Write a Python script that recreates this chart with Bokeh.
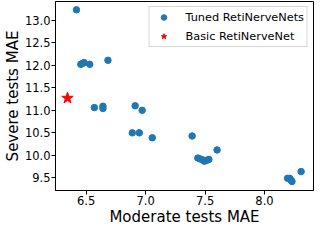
from bokeh.plotting import figure
from bokeh.models import FixedTicker, NumeralTickFormatter, Range1d
from bokeh.embed import file_html
from bokeh.resources import INLINE

# Tuned RetiNerveNets: (moderate MAE, severe MAE)
tuned_moderate = [6.418, 6.455, 6.468, 6.482, 6.530, 6.683, 6.569, 6.641, 6.641,
                  6.912, 6.971, 6.888, 6.947, 7.056, 7.391, 7.601, 7.439, 7.460,
                  7.478, 7.494, 7.513, 7.532, 8.194, 8.212, 8.226, 8.231, 8.308]
tuned_severe = [13.23, 12.02, 12.04, 12.06, 12.02, 12.11, 11.06, 11.09, 11.04,
                11.10, 11.00, 10.50, 10.50, 10.39, 10.43, 10.12, 9.94, 9.92,
                9.90, 9.87, 9.89, 9.91, 9.49, 9.49, 9.44, 9.42, 9.64]
basic_moderate = [6.343]
basic_severe = [11.27]

x_ticks = [6.5, 7.0, 7.5, 8.0]
y_ticks = [9.5, 10.0, 10.5, 11.0, 11.5, 12.0, 12.5, 13.0]

p = figure(width=314, height=228, output_backend="svg", toolbar_location=None,
           x_range=Range1d(6.242, 8.412), y_range=Range1d(9.22, 13.415),
           min_border_left=0, min_border_right=1, min_border_top=1, min_border_bottom=0)

p.scatter(tuned_moderate, tuned_severe, size=6.5, color="#1f77b4",
          legend_label="Tuned RetiNerveNets")
p.scatter(basic_moderate, basic_severe, marker="star", size=12, color="red",
          legend_label="Basic RetiNerveNet")

p.xgrid.visible = False
p.ygrid.visible = False
p.outline_line_color = "black"
p.outline_line_alpha = 1.0
p.background_fill_color = "white"
p.border_fill_color = "white"

for ax in (p.xaxis[0], p.yaxis[0]):
    ax.axis_line_color = "black"
    ax.major_tick_line_color = "black"
    ax.minor_tick_line_color = None
    ax.major_tick_out = 4
    ax.major_tick_in = 0
    ax.major_label_standoff = 1
    ax.axis_label_standoff = 0
    ax.major_label_text_font = "DejaVu Sans"
    ax.major_label_text_font_size = "11.5px"
    ax.major_label_text_color = "black"
    ax.axis_label_text_font = "DejaVu Sans"
    ax.axis_label_text_font_size = "15px"
    ax.axis_label_text_font_style = "normal"
    ax.axis_label_text_color = "black"
    ax.formatter = NumeralTickFormatter(format="0.0")

p.xaxis[0].ticker = FixedTicker(ticks=x_ticks)
p.yaxis[0].ticker = FixedTicker(ticks=y_ticks)
p.xaxis[0].axis_label = "Moderate tests MAE"
p.yaxis[0].axis_label = "Severe tests MAE"

lg = p.legend[0]
lg.location = "top_right"
lg.margin = 5
lg.padding = 3
lg.spacing = 5
lg.glyph_width = 22
lg.glyph_height = 14
lg.label_height = 14
lg.label_standoff = 11
lg.label_text_font = "DejaVu Sans"
lg.label_text_font_size = "11.3px"
lg.label_text_color = "black"
lg.border_line_color = "#cccccc"
lg.border_line_alpha = 0.8
lg.background_fill_alpha = 0.8

open("out.html", "w").write(file_html(p, INLINE))
